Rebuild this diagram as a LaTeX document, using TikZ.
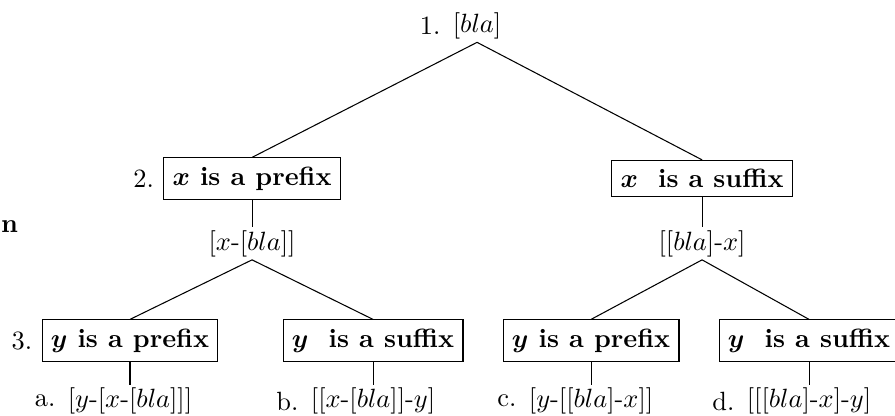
\documentclass[tikz,border=0pt]{standalone}
\usepackage{amsmath,amssymb}
\usepackage{tikz}
\usetikzlibrary{positioning}

\begin{document}
\begin{tikzpicture}[
    box/.style={rectangle, draw, font=\bfseries\boldmath},
    term/.style={inner sep=1pt},
    num/.style={label={left:#1}}
]
\useasboundingbox (0,0) rectangle (11.917,-5.526);

\node[term, num=1.] (root) at (6.352,-0.346) {[$bla$]};
\node[box, num=2.] (xpre) at (3.356,-2.377) {$x$ is a prefix};
\node[box] (xsuf) at (9.348,-2.377) {$x$\ \ is a suffix};
\node[term] (xpreterm) at (3.356,-3.242) {[$x$-[$bla$]]};
\node[term] (xsufterm) at (9.348,-3.242) {[[$bla$]-$x$]};
\node[box, num=3.] (ypre1) at (1.731,-4.534) {$y$ is a prefix};
\node[box] (ysuf1) at (4.967,-4.534) {$y$\ \ is a suffix};
\node[box] (ypre2) at (7.870,-4.534) {$y$ is a prefix};
\node[box] (ysuf2) at (10.772,-4.534) {$y$\ \ is a suffix};
\node[term, num=a.] (lfa) at (1.731,-5.34) {[$y$-[$x$-[$bla$]]]};
\node[term, num=b.] (lfb) at (4.967,-5.34) {[[$x$-[$bla$]]-$y$]};
\node[term, num=c.] (lfc) at (7.870,-5.34) {[$y$-[[$bla$]-$x$]]};
\node[term, num=d.] (lfd) at (10.772,-5.34) {[[[$bla$]-$x$]-$y$]};
\node[font=\bfseries] (n) at (0.126,-3.023) {n};

\draw (root.south) -- (xpre.north);
\draw (root.south) -- (xsuf.north);
\draw (xpre) -- (xpreterm);
\draw (xsuf) -- (xsufterm);
\draw (xpreterm.south) -- (ypre1.north);
\draw (xpreterm.south) -- (ysuf1.north);
\draw (xsufterm.south) -- (ypre2.north);
\draw (xsufterm.south) -- (ysuf2.north);
\draw (ypre1) -- (lfa);
\draw (ysuf1) -- (lfb);
\draw (ypre2) -- (lfc);
\draw (ysuf2) -- (lfd);
\end{tikzpicture}
\end{document}
